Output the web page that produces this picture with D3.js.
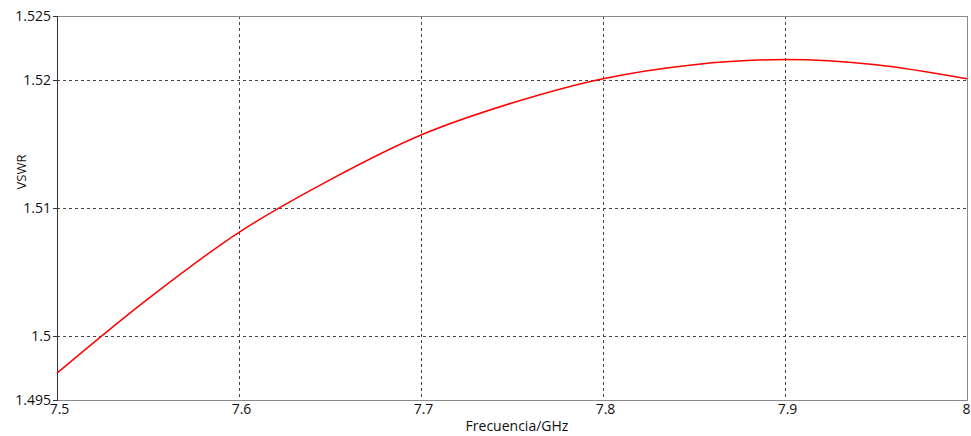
<!DOCTYPE html>
<html>
<head>
<meta charset="utf-8">
<script src="https://cdn.jsdelivr.net/npm/d3@7"></script>
<style>
  body { margin: 0; background: #fff; }
  svg text { font-family: "Open Sans", "DejaVu Sans", sans-serif; fill: #111; }
</style>
</head>
<body>
<div id="chart"></div>
<script>
// Data
const freqs = [7.5, 7.55, 7.6, 7.65, 7.7, 7.75, 7.8, 7.85, 7.9, 7.95, 8.0];
const vswr = [1.4971, 1.5029, 1.5081, 1.5122, 1.5157, 1.5182, 1.5201, 1.5212, 1.5216, 1.5212, 1.5201];

const xTicks = [7.5, 7.6, 7.7, 7.8, 7.9, 8];
const yTicks = [1.495, 1.5, 1.51, 1.52, 1.525];
const xGrid = [7.6, 7.7, 7.8, 7.9];
const yGrid = [1.5, 1.51, 1.52];

const width = 971, height = 436;
const margin = { top: 16, right: 4, bottom: 36, left: 57 };

const svg = d3.select("#chart").append("svg")
  .attr("width", width).attr("height", height);

const x = d3.scaleLinear().domain([7.5, 8]).range([margin.left, width - margin.right]);
const y = d3.scaleLinear().domain([1.495, 1.525]).range([height - margin.bottom, margin.top]);

// grid lines
svg.append("g").selectAll("line").data(xGrid).join("line")
  .attr("x1", d => x(d)).attr("x2", d => x(d))
  .attr("y1", y(1.525)).attr("y2", y(1.495))
  .attr("stroke", "#444").attr("stroke-width", 1).attr("stroke-dasharray", "3,3")
  .attr("shape-rendering", "crispEdges");
svg.append("g").selectAll("line").data(yGrid).join("line")
  .attr("x1", x(7.5)).attr("x2", x(8))
  .attr("y1", d => y(d)).attr("y2", d => y(d))
  .attr("stroke", "#444").attr("stroke-width", 1).attr("stroke-dasharray", "3,3")
  .attr("shape-rendering", "crispEdges");

// frame: top/right/bottom gray, left dark
svg.append("rect")
  .attr("x", x(7.5)).attr("y", y(1.525))
  .attr("width", x(8) - x(7.5)).attr("height", y(1.495) - y(1.525))
  .attr("fill", "none").attr("stroke", "#8a8a8a").attr("shape-rendering", "crispEdges");

// axes
const yAxis = svg.append("g")
  .attr("transform", `translate(${x(7.5)},0)`)
  .call(d3.axisLeft(y).tickValues(yTicks).tickSize(4).tickPadding(2).tickFormat(d3.format("")));
yAxis.select(".domain").attr("stroke", "#333").attr("shape-rendering", "crispEdges");
yAxis.selectAll(".tick line").attr("stroke", "#333");
yAxis.selectAll("text").attr("font-size", 14).attr("fill", "#111");

const xAxis = svg.append("g")
  .attr("transform", `translate(0,${y(1.495)})`)
  .call(d3.axisBottom(x).tickValues(xTicks).tickSize(0).tickPadding(4).tickFormat(d3.format("")));
xAxis.select(".domain").remove();
xAxis.selectAll("text").attr("font-size", 14).attr("fill", "#111").attr("dx", 2);
// last label sits against the right edge
xAxis.selectAll("text").filter(d => d === 8).attr("text-anchor", "end").attr("dx", 3);

// curve
const line = d3.line()
  .x((d, i) => x(freqs[i]))
  .y(d => y(d))
  .curve(d3.curveCatmullRom);

svg.append("path")
  .datum(vswr)
  .attr("d", line)
  .attr("fill", "none")
  .attr("stroke", "#ff0000")
  .attr("stroke-width", 1.5);

// axis titles
svg.append("text")
  .attr("x", 517).attr("y", 431)
  .attr("text-anchor", "middle").attr("font-size", 14)
  .text("Frecuencia/GHz");

svg.append("text")
  .attr("transform", "translate(26,172) rotate(-90)")
  .attr("text-anchor", "middle").attr("font-size", 13)
  .text("VSWR");
</script>
</body>
</html>
